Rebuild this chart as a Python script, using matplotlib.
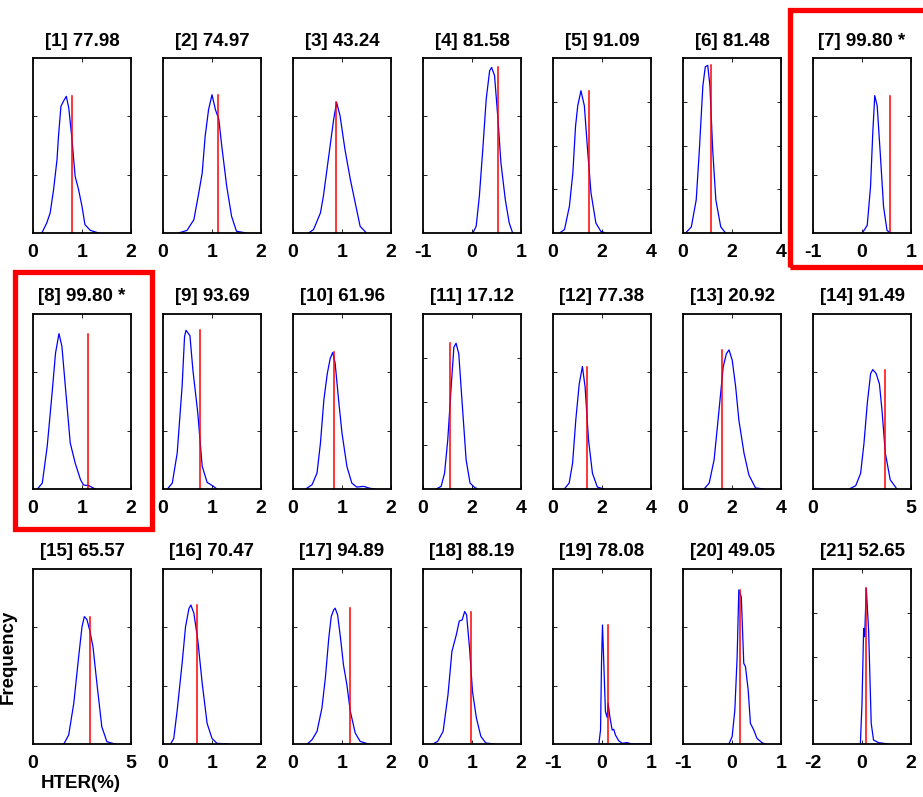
import numpy as np
import matplotlib
matplotlib.use("Agg")
import matplotlib.pyplot as plt
from matplotlib.patches import Rectangle

plt.rcParams['font.family'] = ['Liberation Sans', 'DejaVu Sans']

labels = ["77.98", "74.97", "43.24", "81.58", "91.09", "81.48", "99.80 *",
          "99.80 *", "93.69", "61.96", "17.12", "77.38", "20.92", "91.49",
          "65.57", "70.47", "94.89", "88.19", "78.08", "49.05", "52.65"]

xlims = [(0, 2), (0, 2), (0, 2), (-1, 1), (0, 4), (0, 4), (-1, 1),
         (0, 2), (0, 2), (0, 2), (0, 4), (0, 4), (0, 4), (0, 5),
         (0, 5), (0, 2), (0, 2), (0, 2), (-1, 1), (-1, 1), (-2, 2)]

# number of y-tick intervals per panel
ydiv = [3, 3, 3, 3, 4, 4, 3,
        3, 3, 3, 4, 3, 3, 3,
        3, 3, 3, 3, 3, 3, 4]

# observed HTER (red line)
observed = [0.79, 1.13, 0.875, 0.525, 1.45, 1.15, 0.564,
            1.12, 0.75, 0.845, 1.11, 1.38, 1.61, 3.66,
            2.89, 0.70, 1.16, 0.98, 0.125, 0.17, 0.175]

# permutation distributions (blue), x = HTER, y = relative frequency
dist_x = [
    [0.18, 0.28, 0.35, 0.42, 0.49, 0.52, 0.57, 0.62, 0.68, 0.73, 0.79, 0.86, 0.93, 1.00, 1.06, 1.17, 1.34],
    [0.32, 0.49, 0.63, 0.73, 0.80, 0.86, 0.93, 1.00, 1.07, 1.14, 1.20, 1.30, 1.40, 1.50, 1.70],
    [0.32, 0.42, 0.56, 0.62, 0.73, 0.83, 0.89, 0.96, 1.06, 1.17, 1.27, 1.37, 1.50],
    [0.017, 0.085, 0.15, 0.22, 0.29, 0.36, 0.40, 0.46, 0.53, 0.59, 0.68, 0.76, 0.83],
    [0.27, 0.47, 0.67, 0.81, 0.92, 1.01, 1.14, 1.28, 1.41, 1.55, 1.75, 1.95, 2.15],
    [0.11, 0.34, 0.54, 0.67, 0.81, 0.91, 1.01, 1.10, 1.21, 1.34, 1.54, 1.74],
    [0.007, 0.107, 0.174, 0.22, 0.26, 0.31, 0.376, 0.44, 0.51, 0.58],
    [0.09, 0.19, 0.29, 0.39, 0.46, 0.53, 0.59, 0.66, 0.76, 0.86, 0.97, 1.03, 1.14, 1.27],
    [0.09, 0.19, 0.29, 0.39, 0.44, 0.47, 0.55, 0.61, 0.71, 0.80, 0.90, 1.03, 1.10],
    [0.26, 0.39, 0.49, 0.56, 0.63, 0.70, 0.76, 0.81, 0.86, 0.93, 1.00, 1.10, 1.20, 1.30, 1.44, 1.57, 1.68],
    [0.54, 0.74, 0.88, 1.01, 1.15, 1.26, 1.35, 1.46, 1.59, 1.76, 1.92, 2.09, 2.23],
    [0.46, 0.66, 0.80, 0.93, 1.07, 1.20, 1.31, 1.45, 1.61, 1.81, 2.08],
    [0.86, 1.07, 1.27, 1.47, 1.64, 1.77, 1.88, 2.01, 2.15, 2.28, 2.49, 2.69, 2.96, 3.30],
    [1.85, 2.18, 2.43, 2.60, 2.77, 2.94, 3.05, 3.22, 3.39, 3.52, 3.69, 3.94, 4.28],
    [1.57, 1.82, 2.08, 2.33, 2.50, 2.62, 2.75, 2.89, 3.06, 3.26, 3.51, 3.77, 4.19],
    [0.155, 0.22, 0.29, 0.39, 0.46, 0.53, 0.57, 0.63, 0.71, 0.80, 0.90, 1.00, 1.10, 1.34],
    [0.29, 0.39, 0.49, 0.59, 0.66, 0.73, 0.78, 0.83, 0.86, 0.91, 0.97, 1.03, 1.10, 1.17, 1.27, 1.37, 1.54],
    [0.20, 0.30, 0.41, 0.51, 0.59, 0.68, 0.74, 0.80, 0.85, 0.89, 0.95, 1.01, 1.09, 1.18, 1.28, 1.45],
    [-0.064, -0.03, -0.01, 0.01, 0.037, 0.07, 0.105, 0.125, 0.16, 0.207, 0.24, 0.275, 0.34, 0.41, 0.51, 0.61, 0.99],
    [-0.064, 0.003, 0.058, 0.105, 0.139, 0.19, 0.24, 0.275, 0.33, 0.376, 0.444, 0.51, 0.61, 0.68],
    [-0.067, 0.0, 0.067, 0.107, 0.175, 0.27, 0.376, 0.47, 0.67, 1.07],
]
dist_y = [
    [0, 0.057, 0.114, 0.248, 0.419, 0.552, 0.724, 0.752, 0.781, 0.714, 0.552, 0.324, 0.248, 0.152, 0.048, 0.015, 0],
    [0, 0.015, 0.076, 0.229, 0.343, 0.552, 0.705, 0.79, 0.705, 0.648, 0.495, 0.267, 0.095, 0.01, 0],
    [0, 0.02, 0.115, 0.21, 0.44, 0.65, 0.746, 0.67, 0.478, 0.306, 0.172, 0.038, 0],
    [0, 0.038, 0.21, 0.478, 0.765, 0.927, 0.946, 0.90, 0.65, 0.402, 0.19, 0.057, 0],
    [0, 0.02, 0.153, 0.344, 0.61, 0.727, 0.813, 0.727, 0.478, 0.23, 0.057, 0.01, 0],
    [0, 0.035, 0.19, 0.48, 0.84, 0.95, 0.958, 0.84, 0.48, 0.19, 0.035, 0],
    [0, 0.044, 0.265, 0.573, 0.785, 0.727, 0.44, 0.15, 0.015, 0],
    [0, 0.034, 0.244, 0.55, 0.777, 0.888, 0.815, 0.587, 0.263, 0.149, 0.053, 0.023, 0.019, 0],
    [0, 0.034, 0.206, 0.587, 0.872, 0.907, 0.876, 0.68, 0.434, 0.13, 0.038, 0.015, 0],
    [0, 0.025, 0.091, 0.262, 0.51, 0.66, 0.747, 0.78, 0.719, 0.51, 0.319, 0.129, 0.034, 0.011, 0.015, 0.004, 0],
    [0, 0.015, 0.09, 0.28, 0.583, 0.81, 0.833, 0.773, 0.508, 0.167, 0.034, 0.011, 0],
    [0, 0.034, 0.148, 0.394, 0.60, 0.70, 0.583, 0.28, 0.09, 0.011, 0],
    [0, 0.034, 0.167, 0.45, 0.697, 0.773, 0.795, 0.735, 0.583, 0.394, 0.205, 0.08, 0.006, 0],
    [0, 0.019, 0.09, 0.26, 0.49, 0.66, 0.682, 0.66, 0.60, 0.45, 0.205, 0.053, 0],
    [0, 0.051, 0.232, 0.499, 0.67, 0.728, 0.712, 0.651, 0.556, 0.347, 0.099, 0.013, 0],
    [0, 0.032, 0.194, 0.461, 0.67, 0.775, 0.794, 0.747, 0.594, 0.347, 0.118, 0.032, 0.004, 0],
    [0, 0.025, 0.072, 0.205, 0.376, 0.605, 0.728, 0.766, 0.776, 0.738, 0.605, 0.452, 0.338, 0.186, 0.063, 0.015, 0],
    [0, 0.015, 0.072, 0.281, 0.529, 0.624, 0.703, 0.709, 0.757, 0.738, 0.548, 0.30, 0.148, 0.044, 0.006, 0],
    [0, 0.08, 0.461, 0.68, 0.461, 0.185, 0.152, 0.232, 0.156, 0.08, 0.084, 0.051, 0.019, 0.004, 0.008, 0, 0],
    [0, 0.042, 0.194, 0.499, 0.88, 0.84, 0.461, 0.442, 0.309, 0.118, 0.08, 0.032, 0.008, 0],
    [0, 0.232, 0.661, 0.613, 0.89, 0.65, 0.118, 0.023, 0.008, 0],
]

W, H = 923, 797
fig = plt.figure(figsize=(W / 100, H / 100), dpi=100)

row_top = [58, 314, 569]
ax_w, ax_h = 98, 175

for i in range(21):
    r, c = divmod(i, 7)
    left = 33 + 130 * c
    ax = fig.add_axes([left / W, 1 - (row_top[r] + ax_h) / H, ax_w / W, ax_h / H])
    ax.plot(dist_x[i], dist_y[i], color='blue', lw=0.9)
    ax.plot([observed[i], observed[i]], [0, max(dist_y[i])], color='red', lw=1.1)
    lo, hi = xlims[i]
    ax.set_xlim(lo, hi)
    ax.set_ylim(0, 1)
    if hi - lo == 5:
        ax.set_xticks([lo, hi])
    else:
        ax.set_xticks(np.linspace(lo, hi, 3))
    ax.set_xticklabels([f"{v:g}" for v in ax.get_xticks()], fontsize=14, fontweight='bold')
    ax.set_yticks(np.arange(1, ydiv[i]) / ydiv[i])
    ax.set_yticklabels([])
    ax.tick_params(direction='in', top=True, right=True, length=3, width=0.6, pad=8)
    for s in ax.spines.values():
        s.set_linewidth(1.3)
    ax.set_title(f"[{i + 1}] {labels[i]}", fontsize=13.5, fontweight='bold', pad=9)

fig.text(8 / W, 1 - 657 / H, "Frequency", rotation=90, ha='center', va='center',
         fontsize=13.5, fontweight='bold')
fig.text(81 / W, 1 - 784 / H, "HTER(%)", ha='center', va='center',
         fontsize=13.5, fontweight='bold')

# highlight boxes (pixel coords -> figure fraction)
for x0, y0, x1, y1 in [(790, 10, 926, 267), (15, 272, 152, 529)]:
    fig.add_artist(Rectangle((x0 / W, 1 - y1 / H), (x1 - x0) / W, (y1 - y0) / H,
                             transform=fig.transFigure, fill=False, ec='red', lw=3.8,
                             clip_on=False))

fig.savefig("out.png", dpi=100)
